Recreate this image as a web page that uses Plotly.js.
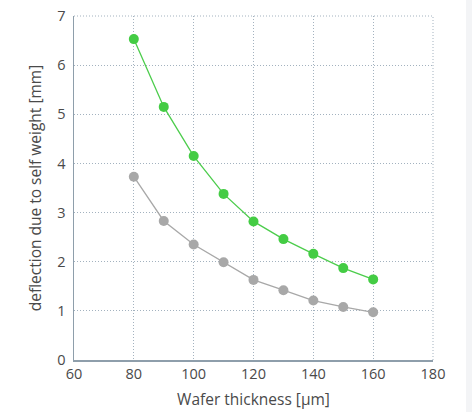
<!DOCTYPE html>
<html><head><meta charset="utf-8">
<script src="https://cdn.plot.ly/plotly-3.0.1.min.js"></script>
<style>html,body{margin:0;padding:0;background:#fff;}#chart{width:472px;height:412px;}
#strip{position:absolute;left:466px;top:0;width:6px;height:412px;background:#f3f4f6;}</style>
</head><body>
<div id="chart"></div><div id="strip"></div>
<script>
const thickness = [80, 90, 100, 110, 120, 130, 140, 150, 160];
const greenSeries = [6.53, 5.15, 4.15, 3.38, 2.82, 2.46, 2.16, 1.87, 1.64];
const graySeries = [3.73, 2.83, 2.35, 1.99, 1.63, 1.42, 1.21, 1.08, 0.97];
const xTicks = [60, 80, 100, 120, 140, 160, 180];
const yTicks = [0, 1, 2, 3, 4, 5, 6, 7];

const gridColor = '#a3b2bf';
const traces = [
  {x: thickness, y: graySeries, mode: 'lines+markers', line: {color: '#a8a8a8', width: 1.3},
   marker: {color: '#a8a8a8', size: 10}, hoverinfo: 'none'},
  {x: thickness, y: greenSeries, mode: 'lines+markers', line: {color: '#4ccd4c', width: 1.3},
   marker: {color: '#44cc44', size: 10}, hoverinfo: 'none'}
];
const layout = {
  width: 472, height: 412,
  margin: {l: 74, r: 39, t: 16, b: 52},
  paper_bgcolor: '#fff', plot_bgcolor: '#fff',
  showlegend: false,
  font: {family: 'Open Sans, sans-serif', color: '#4a4a4a', size: 14},
  shapes: [
    {type: 'line', xref: 'paper', yref: 'paper', x0: 0, x1: 1, y0: 1, y1: 1,
     line: {color: gridColor, width: 1, dash: '1px,2px'}},
    {type: 'line', xref: 'paper', yref: 'paper', x0: 1, x1: 1, y0: 0, y1: 1,
     line: {color: gridColor, width: 1, dash: '1px,2px'}}
  ],
  xaxis: {range: [60, 180], tickvals: xTicks, ticktext: xTicks.map(String),
    showgrid: true, gridcolor: gridColor, griddash: '1px,2px', gridwidth: 1,
    showline: true, linecolor: '#8e9eab', linewidth: 1.5, zeroline: false, ticks: '',
    tickfont: {size: 14.5},
    title: {text: 'Wafer thickness [μm]', font: {size: 15.5, color: '#4a4a4a'}, standoff: 12}},
  yaxis: {range: [0, 7], tickvals: yTicks, ticktext: yTicks.map(String),
    showgrid: true, gridcolor: gridColor, griddash: '1px,2px', gridwidth: 1,
    showline: true, linecolor: '#8e9eab', linewidth: 1.5, zeroline: false, ticks: '',
    ticklabelstandoff: 4, tickfont: {size: 14.5},
    title: {text: 'deflection due to self weight [mm]', font: {size: 15.5, color: '#4a4a4a'}, standoff: 12}}
};
Plotly.newPlot('chart', traces, layout, {displayModeBar: false, staticPlot: true});
</script>
</body></html>
